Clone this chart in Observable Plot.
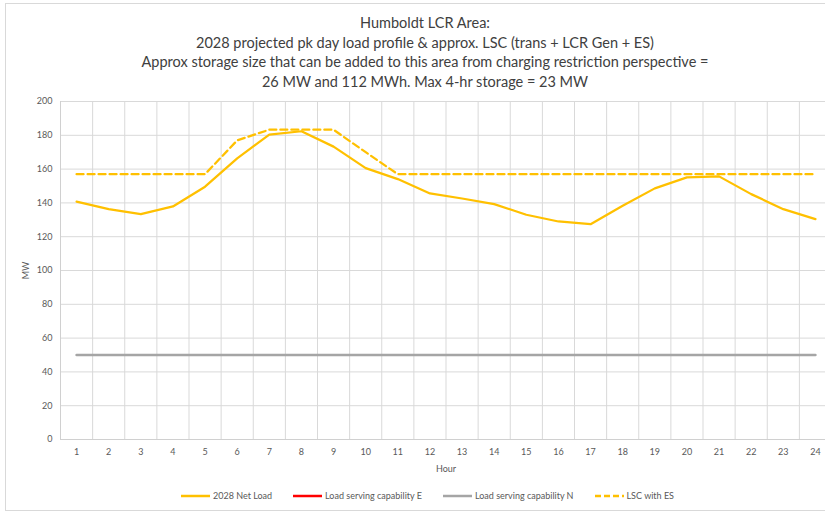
<!DOCTYPE html>
<html>
<head>
<meta charset="utf-8">
<script src="https://cdn.jsdelivr.net/npm/d3@7"></script>
<script src="https://cdn.jsdelivr.net/npm/@observablehq/plot@0.6"></script>
<style>
  html, body { margin: 0; padding: 0; background: #fff; }
  #wrap { position: relative; width: 825px; height: 514px; overflow: hidden; font-family: Lato, "Open Sans", sans-serif; color: #404040; }
  #frame { position: absolute; left: 5px; top: 3px; width: 880px; height: 508px; border: 1px solid #d9d9d9; box-sizing: border-box; }
  #title { position: absolute; left: 0; width: 850px; top: 13px; text-align: center; font-size: 14.5px; line-height: 19.5px; color: #404040; }
  #chart { position: absolute; left: 0; top: 89px; width: 845px; }
  #chart svg { max-width: none !important; }
  #legend { position: absolute; left: 0; width: 855px; top: 490px; display: flex; justify-content: center; gap: 21px; font-size: 9px; color: #595959; }
  .item { display: flex; align-items: center; gap: 3px; white-space: nowrap; }
</style>
</head>
<body>
<div id="wrap">
  <div id="frame"></div>
  <div id="title">Humboldt LCR Area:<br>2028 projected pk day load profile &amp; approx. LSC (trans + LCR Gen + ES)<br>Approx storage size that can be added to this area from charging restriction perspective =<br>26 MW and 112 MWh. Max 4-hr storage = 23 MW</div>
  <div id="chart"></div>
  <div id="legend"></div>
</div>
<script>
const hours = [1,2,3,4,5,6,7,8,9,10,11,12,13,14,15,16,17,18,19,20,21,22,23,24];
const netLoad = [140.7,136.3,133.4,137.9,149.6,166.4,180.4,182.4,173.3,160.6,154.1,145.6,142.6,139.3,133.0,129.0,127.4,138.3,148.6,155.1,155.7,145.2,136.3,130.4];
const lscE = [50,50,50,50,50,50,50,50,50,50,50,50,50,50,50,50,50,50,50,50,50,50,50,50];
const lscN = [50,50,50,50,50,50,50,50,50,50,50,50,50,50,50,50,50,50,50,50,50,50,50,50];
const lscES = [157,157,157,157,157,177,183.3,183.3,183.3,170,157,157,157,157,157,157,157,157,157,157,157,157,157,157];
const yTicks = [0,20,40,60,80,100,120,140,160,180,200];
const seriesNames = ["2028 Net Load","Load serving capability E","Load serving capability N","LSC with ES"];
const seriesColors = ["#FFC000","#FF0000","#A5A5A5","#FFC000"];

const boundaries = hours.map(h => h - 0.5).concat([hours[hours.length-1] + 0.5]);
const rows = (vals) => hours.map((h, i) => ({hour: h, value: vals[i]}));

const plot = Plot.plot({
  width: 845,
  height: 400,
  marginLeft: 60,
  marginRight: 14,
  marginTop: 12,
  marginBottom: 50,
  style: {fontFamily: "Lato, 'Open Sans', sans-serif", fontSize: "9px", color: "#595959", background: "transparent", maxWidth: "none"},
  x: {domain: [boundaries[0], boundaries[boundaries.length-1]]},
  y: {domain: [0, 200]},
  marks: [
    Plot.ruleY(yTicks.slice(1), {stroke: "#d9d9d9", strokeWidth: 1}),
    Plot.ruleX(boundaries, {stroke: "#d9d9d9", strokeWidth: 1}),
    Plot.ruleY([0], {stroke: "#d0d0d0", strokeWidth: 1}),
    Plot.ruleX([boundaries[0]], {stroke: "#d0d0d0", strokeWidth: 1}),
    Plot.axisY({ticks: yTicks, tickSize: 0, tickPadding: 8, label: "MW", labelAnchor: "center", labelArrow: false, labelOffset: 38, fill: "#595959"}),
    Plot.axisX({ticks: hours, tickSize: 0, tickPadding: 9, tickFormat: d => String(d), label: "Hour", labelAnchor: "center", labelArrow: false, labelOffset: 32, fill: "#595959"}),
    Plot.line(rows(lscE), {x: "hour", y: "value", stroke: seriesColors[1], strokeWidth: 0.8}),
    Plot.line(rows(lscN), {x: "hour", y: "value", stroke: seriesColors[2], strokeWidth: 2.5}),
    Plot.line(rows(netLoad), {x: "hour", y: "value", stroke: seriesColors[0], strokeWidth: 2.25}),
    Plot.line(rows(lscES), {x: "hour", y: "value", stroke: seriesColors[3], strokeWidth: 2.25, strokeDasharray: "7,4"})
  ]
});
document.getElementById("chart").appendChild(plot);

const legend = document.getElementById("legend");
seriesNames.forEach((name, i) => {
  const item = document.createElement("div");
  item.className = "item";
  const dash = i === 3 ? ' stroke-dasharray="6,3"' : '';
  item.innerHTML = `<svg width="29" height="6"><line x1="0" y1="3" x2="29" y2="3" stroke="${seriesColors[i]}" stroke-width="2.5"${dash}/></svg><span>${name}</span>`;
  legend.appendChild(item);
});
</script>
</body>
</html>
